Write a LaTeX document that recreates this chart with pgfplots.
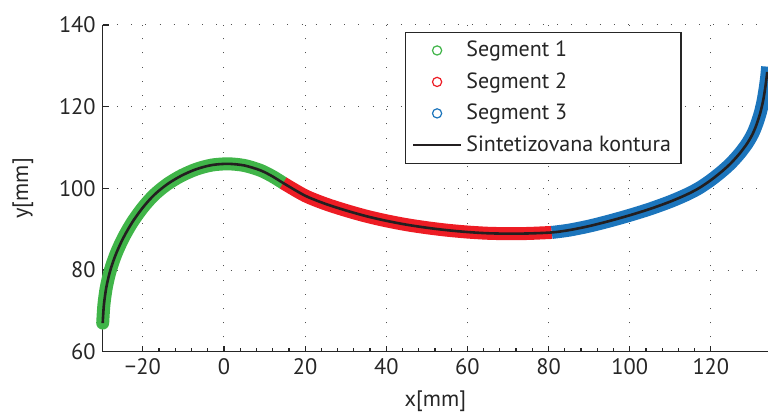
\documentclass[border=0pt]{standalone}
\usepackage{pgfplots}
\pgfplotsset{compat=1.18}
\usepackage{fontspec}
\setmainfont{PT Sans}
\definecolor{cG}{RGB}{64,181,73}
\definecolor{cR}{RGB}{237,28,36}
\definecolor{cB}{RGB}{28,117,188}
\definecolor{cK}{RGB}{35,31,32}
\definecolor{cT}{RGB}{38,38,38}
\pgfplotsset{
  circleleg/.style={legend image code/.code={\draw[##1] (12pt,0pt) circle (2.3pt);}},
  lineleg/.style={legend image code/.code={\draw[##1] (0pt,0pt) -- (24pt,0pt);}},
}

\pgfplotstableread{
x y
-29.9 67.0
-29.6 71.5
-29.0 75.8
-28.0 80.0
-26.6 84.0
-24.8 87.9
-22.6 91.7
-20.0 95.3
-17.2 98.4
-14.0 101.0
-10.5 103.1
-6.8 104.7
-3.0 105.7
1.0 106.0
5.0 105.6
9.0 104.4
12.0 102.9
14.6 101.3
}\segA
\pgfplotstableread{
x y
14.6 101.3
20.0 98.2
25.0 96.2
30.0 94.6
35.0 93.2
40.0 92.05
45.0 91.1
50.0 90.35
55.0 89.75
60.0 89.3
65.0 89.0
70.0 88.9
75.0 88.95
80.8 89.2
}\segB
\pgfplotstableread{
x y
80.8 89.2
85.0 89.75
90.0 90.75
95.0 92.0
100.0 93.4
105.0 94.95
110.0 96.75
114.0 98.45
117.0 100.0
119.8 101.85
122.5 103.95
124.8 106.0
127.0 108.4
128.9 110.9
130.3 113.3
131.3 115.7
132.2 118.5
132.9 121.5
133.4 124.5
133.8 127.5
134.0 129.8
}\segC

\begin{document}
\begin{tikzpicture}
\begin{axis}[
  scale only axis, width=332.65pt, height=163.35pt,
  xmin=-29.9, xmax=134.1, ymin=60, ymax=140,
  clip=false,
  axis x line*=bottom, axis y line*=left,
  axis line style={-, cT, line width=0.6pt},
  xtick={-20,0,20,40,60,80,100,120},
  xticklabels={−20,0,20,40,60,80,100,120},
  ytick={60,80,100,120,140},
  minor x tick num=4,
  major tick length=3pt, minor tick length=1.6pt,
  every tick/.style={cT, line width=0.6pt},
  grid=major,
  major grid style={cT!80, line width=0.5pt, dash pattern=on 0.5pt off 6.6pt},
  tick label style={font=\fontsize{11.2}{13}\selectfont, text=cT},
  /pgf/number format/assume math mode=true,
  xlabel={x[mm]}, ylabel={y[mm]},
  label style={font=\fontsize{11.2}{13}\selectfont, text=cT},
  xlabel style={at={(ticklabel cs:0.5)}, anchor=north, yshift=-1pt},
  ylabel style={at={(ticklabel cs:0.5)}, anchor=south, yshift=6pt},
  legend style={at={(0.870,0.98)}, anchor=north east,
    font=\fontsize{11}{13}\selectfont, text=cT,
    draw=cT, line width=0.6pt, inner xsep=3pt, inner ysep=2.5pt,
    row sep=2.4pt, legend cell align=left},
]
\addplot[cG, line width=6.5pt, line cap=round, forget plot, smooth, tension=0.5] table {\segA};
\addplot[cR, line width=6.5pt, line cap=butt, forget plot, smooth, tension=0.5] table {\segB};
\addplot[cB, line width=6.5pt, line cap=butt, forget plot, smooth, tension=0.5] table {\segC};
\addlegendimage{cG, line width=0.6pt, circleleg}
\addlegendentry{Segment 1}
\addlegendimage{cR, line width=0.6pt, circleleg}
\addlegendentry{Segment 2}
\addlegendimage{cB, line width=0.6pt, circleleg}
\addlegendentry{Segment 3}
\addplot[cK, line width=1.3pt, smooth, tension=0.5, lineleg]
  table {
x y
-29.9 67.0
-29.6 71.5
-29.0 75.8
-28.0 80.0
-26.6 84.0
-24.8 87.9
-22.6 91.7
-20.0 95.3
-17.2 98.4
-14.0 101.0
-10.5 103.1
-6.8 104.7
-3.0 105.7
1.0 106.0
5.0 105.6
9.0 104.4
12.0 102.9
14.6 101.3
20.0 98.2
25.0 96.2
30.0 94.6
35.0 93.2
40.0 92.05
45.0 91.1
50.0 90.35
55.0 89.75
60.0 89.3
65.0 89.0
70.0 88.9
75.0 88.95
80.8 89.2
85.0 89.75
90.0 90.75
95.0 92.0
100.0 93.4
105.0 94.95
110.0 96.75
114.0 98.45
117.0 100.0
119.8 101.85
122.5 103.95
124.8 106.0
127.0 108.4
128.9 110.9
130.3 113.3
131.3 115.7
132.2 118.5
132.9 121.5
133.4 124.5
133.8 127.5
133.9 128.5
};
\addlegendentry{Sintetizovana kontura}
\coordinate (sw) at (rel axis cs:0,0);
\coordinate (ne) at (rel axis cs:1,1);
\end{axis}
\pgfresetboundingbox
\path ([xshift=-51.35pt,yshift=-30.15pt]sw) rectangle ([yshift=12.5pt]ne);
\end{tikzpicture}
\end{document}
